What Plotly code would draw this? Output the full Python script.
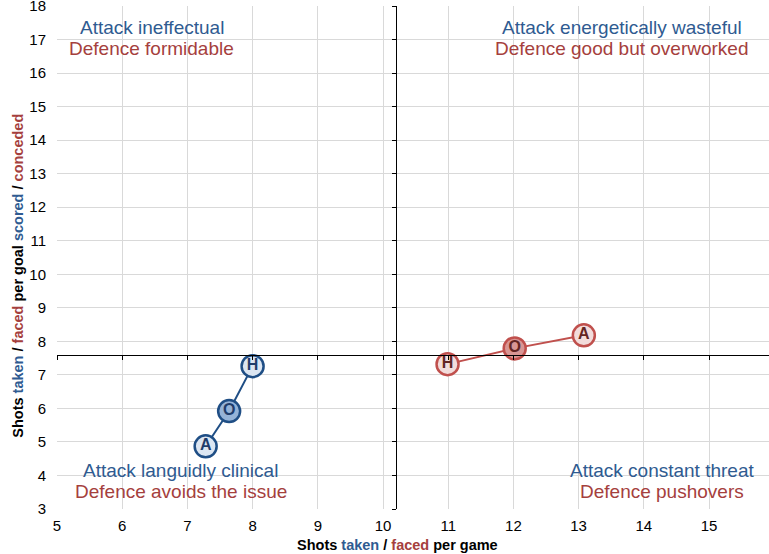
import plotly.graph_objects as go

venues = ['A', 'O', 'H']
attack_shots = [7.28, 7.64, 8.0]
attack_per_goal = [4.87, 5.92, 7.26]
defence_shots = [13.08, 12.02, 10.99]
defence_per_goal = [8.18, 7.79, 7.32]
avg_shots = 10.2
avg_per_goal = 7.58

x_ticks = list(range(5, 16))
y_ticks = list(range(3, 19))

BLUE = '#2f5b91'
RED = '#a5403d'
x_range = [5, 15.92]
y_range = [3, 18]

fig = go.Figure()

fig.add_trace(go.Scatter(
    x=attack_shots, y=attack_per_goal, text=venues,
    mode='lines+markers+text', textposition='middle center',
    line=dict(color='#1f4e85', width=2),
    marker=dict(size=22, color=['#dce6f2', '#95b3d7', '#dce6f2'],
                line=dict(color='#1f4e85', width=2.5)),
    textfont=dict(family='Arial', size=16, color='#1f3d6b', weight='bold'),
    showlegend=False))

fig.add_trace(go.Scatter(
    x=defence_shots, y=defence_per_goal, text=venues,
    mode='lines+markers+text', textposition='middle center',
    line=dict(color='#c0504d', width=2),
    marker=dict(size=22, color=['#f2dcdb', '#d99694', '#f2dcdb'],
                line=dict(color='#c0504d', width=2.5)),
    textfont=dict(family='Arial', size=16, color='#632523', weight='bold'),
    showlegend=False))

# dummy trace so the crossing axes get drawn
fig.add_trace(go.Scatter(x=[None], y=[None], xaxis='x2', yaxis='y2',
                         showlegend=False, hoverinfo='skip'))

quadrants = [
    (6.45, 'Attack ineffectual', 'Defence formidable', 17.35),
    (13.67, 'Attack energetically wasteful', 'Defence good but overworked', 17.35),
    (6.9, 'Attack languidly clinical', 'Defence avoids the issue', 4.15),
    (14.28, 'Attack constant threat', 'Defence pushovers', 4.15),
]
for qx, atk, dfc, qy in quadrants:
    fig.add_annotation(x=qx, y=qy, text=atk, showarrow=False,
                       font=dict(family='Arial', size=19, color=BLUE))
    fig.add_annotation(x=qx, y=qy - 0.63, text=dfc, showarrow=False,
                       font=dict(family='Arial', size=19, color=RED))

fig.add_annotation(
    xref='paper', yref='paper', x=0.478, y=-0.071, yanchor='middle',
    text=f"<b>Shots <span style='color:{BLUE}'>taken</span> / "
         f"<span style='color:{RED}'>faced</span> per game</b>",
    showarrow=False, font=dict(family='Arial', size=14.5, color='black'))
fig.add_annotation(
    xref='paper', yref='paper', x=-0.056, y=0.464,
    xanchor='center', yanchor='middle', textangle=-90,
    text=f"<b>Shots <span style='color:{BLUE}'>taken</span> / "
         f"<span style='color:{RED}'>faced</span> per goal "
         f"<span style='color:{BLUE}'>scored</span> / "
         f"<span style='color:{RED}'>conceded</span></b>",
    showarrow=False, font=dict(family='Arial', size=14.5, color='black'))

fig.update_layout(
    width=769, height=554,
    margin=dict(l=57, r=0, t=6, b=45, autoexpand=False),
    plot_bgcolor='white', paper_bgcolor='white',
    font=dict(family='Arial', size=15, color='black'),
    xaxis=dict(range=x_range, tickvals=x_ticks, showgrid=True,
               gridcolor='#d9d9d9', gridwidth=1, zeroline=False,
               showline=False, ticks='', ticklabelstandoff=6,
               ticklabeloverflow='allow', automargin=False),
    yaxis=dict(range=y_range, tickvals=y_ticks, showgrid=True,
               gridcolor='#d9d9d9', gridwidth=1, zeroline=False,
               showline=False, ticks='', ticklabelstandoff=10,
               ticklabeloverflow='allow', automargin=False),
    xaxis2=dict(range=x_range, tickvals=x_ticks, overlaying='x',
                anchor='free',
                position=(avg_per_goal - y_range[0]) / (y_range[1] - y_range[0]),
                showline=True, linecolor='black', linewidth=1,
                ticks='outside', ticklen=4, tickcolor='black',
                showticklabels=False, showgrid=False, zeroline=False,
                automargin=False),
    yaxis2=dict(range=y_range, tickvals=y_ticks, overlaying='y',
                anchor='free', side='left',
                position=(avg_shots - x_range[0]) / (x_range[1] - x_range[0]),
                showline=True, linecolor='black', linewidth=1,
                ticks='outside', ticklen=4, tickcolor='black',
                showticklabels=False, showgrid=False, zeroline=False,
                automargin=False),
)

fig.write_html("out.html", config={'displayModeBar': False},
               post_script="document.body.style.margin='0';")
